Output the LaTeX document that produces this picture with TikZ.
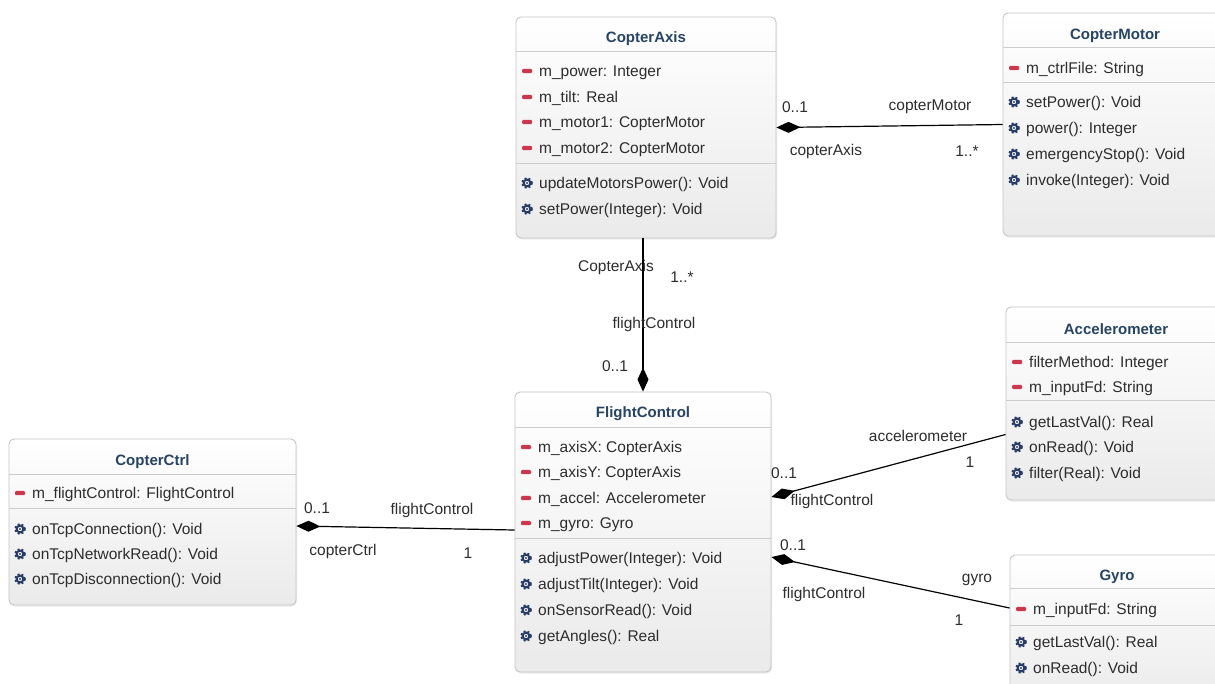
\documentclass[tikz,border=0pt]{standalone}
\usepackage{fontspec}
\setmainfont{Liberation Sans}
\usetikzlibrary{arrows.meta,shadows}

\definecolor{titlecol}{RGB}{38,68,100}
\definecolor{textcol}{RGB}{45,45,45}
\definecolor{gearcol}{RGB}{40,60,105}
\definecolor{minuscol}{RGB}{205,55,75}
\definecolor{bordercol}{RGB}{198,198,198}
\definecolor{sepcol}{RGB}{205,205,205}
\definecolor{boxbottom}{RGB}{234,234,234}

\tikzset{
  classbox/.style={draw=bordercol, line width=0.9pt, rounded corners=5pt,
    top color=white, bottom color=boxbottom, inner sep=0pt,
    drop shadow={shadow xshift=1pt, shadow yshift=-1.5pt, opacity=0.15}},
  classtitle/.style={font=\fontsize{15}{18}\selectfont\bfseries, text=titlecol, inner sep=0pt, yshift=-2.5pt},
  member/.style={font=\fontsize{15.5}{18}\selectfont, text=textcol, anchor=mid west, inner sep=0pt, yshift=-2.5pt},
  lbl/.style={font=\fontsize{15.5}{18}\selectfont, text=textcol, inner sep=0pt, yshift=-2pt},
  sepline/.style={draw=sepcol, line width=0.9pt},
  comp/.style={draw=black, line width=1.2pt, {Diamond[length=24pt,width=11pt]}-},
  gearicon/.pic={
    \draw[gearcol, line width=2pt] (0,0) circle (3.4pt);
    \draw[gearcol, line width=1.8pt, dash pattern=on 2pt off 2.1pt] (0,0) circle (5pt);
    \fill[gearcol] (0,0) circle (1.1pt);
  },
  minusicon/.pic={
    \fill[minuscol, rounded corners=1.2pt] (-5pt,-2.2pt) rectangle (5pt,2.2pt);
  }
}

% class box from its corners (x1,y1)-(x2,y2), y measured downwards
\newcommand\umlbox[5]{%
  \pgfmathsetmacro\ubcx{(#2+#4)/2}%
  \pgfmathsetmacro\ubcy{(#3+#5)/2}%
  \pgfmathsetmacro\ubw{#4-#2}%
  \pgfmathsetmacro\ubh{#5-#3}%
  \node[classbox, minimum width=\ubw pt, minimum height=\ubh pt] (#1) at (\ubcx,\ubcy) {};}
% attribute row: name, box left, y, text
\newcommand\attrrow[4]{%
  \pic at ({#2+11},#3) {minusicon};
  \node[member] (#1) at ({#2+23},#3) {#4};}
% operation row: name, box left, y, text
\newcommand\oprow[4]{%
  \pic at ({#2+11},#3) {gearicon};
  \node[member] (#1) at ({#2+23},#3) {#4};}

\begin{document}
\begin{tikzpicture}[x=1pt,y=-1pt]
\useasboundingbox (0,0) rectangle (1215,683);
\clip (0,0) rectangle (1215,683);
\fill[white] (0,0) rectangle (1215,683);

% ---- CopterAxis
\umlbox{axis}{516}{17}{776}{238}
\node[classtitle] (axis-t) at (646,36) {CopterAxis};
\draw[sepline] (516,51) -- (776,51);
\attrrow{axis-a1}{516}{71}{m\_power: Integer}
\attrrow{axis-a2}{516}{97}{m\_tilt: Real}
\attrrow{axis-a3}{516}{122}{m\_motor1: CopterMotor}
\attrrow{axis-a4}{516}{148}{m\_motor2: CopterMotor}
\draw[sepline] (516,163) -- (776,163);
\oprow{axis-o1}{516}{183}{updateMotorsPower(): Void}
\oprow{axis-o2}{516}{209}{setPower(Integer): Void}

% ---- CopterMotor
\umlbox{motor}{1003}{13}{1227}{236}
\node[classtitle] (motor-t) at (1115,33) {CopterMotor};
\draw[sepline] (1003,47) -- (1227,47);
\attrrow{motor-a1}{1003}{68}{m\_ctrlFile: String}
\draw[sepline] (1003,82) -- (1227,82);
\oprow{motor-o1}{1003}{102}{setPower(): Void}
\oprow{motor-o2}{1003}{128}{power(): Integer}
\oprow{motor-o3}{1003}{154}{emergencyStop(): Void}
\oprow{motor-o4}{1003}{180}{invoke(Integer): Void}

% ---- FlightControl
\umlbox{flight}{515}{392}{771}{672}
\node[classtitle] (flight-t) at (643,411) {FlightControl};
\draw[sepline] (515,427) -- (771,427);
\attrrow{flight-a1}{515}{447}{m\_axisX: CopterAxis}
\attrrow{flight-a2}{515}{472}{m\_axisY: CopterAxis}
\attrrow{flight-a3}{515}{498}{m\_accel: Accelerometer}
\attrrow{flight-a4}{515}{523}{m\_gyro: Gyro}
\draw[sepline] (515,538) -- (771,538);
\oprow{flight-o1}{515}{558}{adjustPower(Integer): Void}
\oprow{flight-o2}{515}{584}{adjustTilt(Integer): Void}
\oprow{flight-o3}{515}{610}{onSensorRead(): Void}
\oprow{flight-o4}{515}{636}{getAngles(): Real}

% ---- CopterCtrl
\umlbox{ctrl}{9}{439}{296}{605}
\node[classtitle] (ctrl-t) at (152.5,459) {CopterCtrl};
\draw[sepline] (9,474) -- (296,474);
\attrrow{ctrl-a1}{9}{493}{m\_flightControl: FlightControl}
\draw[sepline] (9,508) -- (296,508);
\oprow{ctrl-o1}{9}{529}{onTcpConnection(): Void}
\oprow{ctrl-o2}{9}{554}{onTcpNetworkRead(): Void}
\oprow{ctrl-o3}{9}{579}{onTcpDisconnection(): Void}

% ---- Accelerometer
\umlbox{accel}{1006}{307}{1226}{500}
\node[classtitle] (accel-t) at (1116,327) {Accelerometer};
\draw[sepline] (1006,342) -- (1226,342);
\attrrow{accel-a1}{1006}{362}{filterMethod: Integer}
\attrrow{accel-a2}{1006}{387}{m\_inputFd: String}
\draw[sepline] (1006,400) -- (1226,400);
\oprow{accel-o1}{1006}{422}{getLastVal(): Real}
\oprow{accel-o2}{1006}{447}{onRead(): Void}
\oprow{accel-o3}{1006}{473}{filter(Real): Void}

% ---- Gyro
\umlbox{gyro}{1010}{555}{1224}{710}
\node[classtitle] (gyro-t) at (1117,574) {Gyro};
\draw[sepline] (1010,588) -- (1224,588);
\attrrow{gyro-a1}{1010}{609}{m\_inputFd: String}
\draw[sepline] (1010,625) -- (1224,625);
\oprow{gyro-o1}{1010}{642}{getLastVal(): Real}
\oprow{gyro-o2}{1010}{668}{onRead(): Void}

% ---- compositions
\draw[comp] (axis.east) -- (motor.west);
\draw[comp] (flight.north) -- (flight.north |- axis.south);
\draw[comp] ([yshift=35pt]flight.east) -- ([yshift=-31pt]accel.west);
\draw[comp] ([yshift=-25pt]flight.east) -- ([yshift=24.5pt]gyro.west);
\draw[comp] ([yshift=-4pt]ctrl.east) -- ([yshift=2pt]flight.west);

% ---- role names and multiplicities
\node[lbl] (m1a) at (795,105) {0..1};
\node[lbl] (m1b) at (930,105) {copterMotor};
\node[lbl] (m1c) at (826,149) {copterAxis};
\node[lbl] (m1d) at (967,149) {1..*};

\node[lbl] (m2a) at (616,265) {CopterAxis};
\node[lbl] (m2b) at (682,275) {1..*};
\node[lbl] (m2c) at (654,322) {flightControl};
\node[lbl] (m2d) at (615,364) {0..1};

\node[lbl] (m3a) at (918,434) {accelerometer};
\node[lbl] (m3b) at (970,460) {1};
\node[lbl] (m3c) at (784,471) {0..1};
\node[lbl] (m3d) at (832,499) {flightControl};

\node[lbl] (m4a) at (793,543) {0..1};
\node[lbl] (m4b) at (977,578) {gyro};
\node[lbl] (m4c) at (824,592) {flightControl};
\node[lbl] (m4d) at (959,618) {1};

\node[lbl] (m5a) at (317,506) {0..1};
\node[lbl] (m5b) at (432,508) {flightControl};
\node[lbl] (m5c) at (343,549) {copterCtrl};
\node[lbl] (m5d) at (468,551) {1};
\end{tikzpicture}
\end{document}
